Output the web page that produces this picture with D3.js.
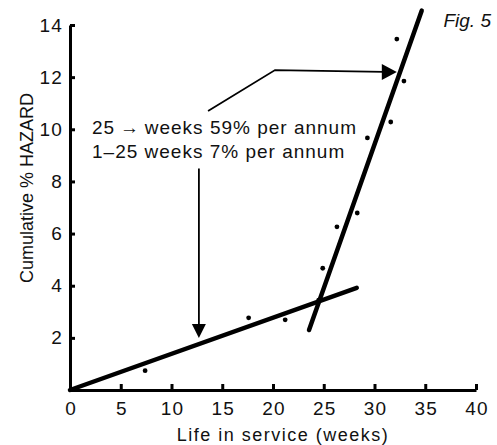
<!DOCTYPE html>
<html><head><meta charset="utf-8">
<script src="https://cdn.jsdelivr.net/npm/d3@7"></script>
<style>
body{margin:0;background:#fff;}
text{font-family:"Liberation Sans",Arial,sans-serif;fill:#111;}
</style></head>
<body><svg id="c" width="497" height="445"></svg>
<script>
// Data
const weeks  = [7.4, 17.6, 21.2, 24.5, 24.9, 26.3, 28.3, 29.3, 31.6, 32.2, 32.9];
const hazard = [0.74, 2.77, 2.69, 3.45, 4.67, 6.26, 6.79, 9.67, 10.28, 13.46, 11.85];
const lowFitX  = [0, 28.25];
const lowFitY  = [0, 3.92];
const highFitX = [23.55, 34.65];
const highFitY = [2.3, 14.55];
const xTicks = [0, 5, 10, 15, 20, 25, 30, 35, 40];
const yTicks = [2, 4, 6, 8, 10, 12, 14];
const noteLines = ["25\u2009\u2192\u2009weeks 59% per annum", "1\u201325 weeks 7% per annum"];
const arrowDownX = [12.7, 12.7];
const arrowDownY = [8.5, 1.99];
const arrowRightX = [13.6, 20.2, 32.2];
const arrowRightY = [10.7, 12.27, 12.2];

const svg = d3.select("#c");
const x = d3.scaleLinear().domain([0, 40]).range([70, 476]);
const y = d3.scaleLinear().domain([0, 14]).range([390, 25]);

// axes
const xa = svg.append("g").attr("transform", "translate(0,390)")
  .call(d3.axisBottom(x).tickValues(xTicks).tickSizeInner(-6).tickSizeOuter(0).tickPadding(12));
const ya = svg.append("g").attr("transform", "translate(70,0)")
  .call(d3.axisLeft(y).tickValues(yTicks).tickSizeInner(-5).tickSizeOuter(0).tickPadding(7));
[xa, ya].forEach(g => {
  g.select(".domain").attr("stroke", "#000").attr("stroke-width", 3);
  g.selectAll(".tick line").attr("stroke", "#000").attr("stroke-width", 3);
  g.selectAll(".tick text").style("font-size", "19px").style("letter-spacing", "1.2px").attr("fill", "#111");
});
xa.selectAll(".tick text").attr("dx", "0.6px");
xa.selectAll(".tick").filter(d => d === 0).select("line").remove();

// fit lines
const line = d3.line().x(d => x(d[0])).y(d => y(d[1]));
svg.append("path").datum(lowFitX.map((v, i) => [v, lowFitY[i]]))
  .attr("d", line).attr("stroke", "#000").attr("stroke-width", 4.5).attr("stroke-linecap", "round").attr("fill", "none");
svg.append("path").datum(highFitX.map((v, i) => [v, highFitY[i]]))
  .attr("d", line).attr("stroke", "#000").attr("stroke-width", 4.5).attr("stroke-linecap", "round").attr("fill", "none");

// points
svg.selectAll("circle.pt").data(weeks.map((w, i) => [w, hazard[i]])).enter()
  .append("circle").attr("class", "pt")
  .attr("cx", d => x(d[0])).attr("cy", d => y(d[1])).attr("r", 2.4).attr("fill", "#000");

// annotation arrows
const arrowDown = arrowDownX.map((v, i) => [v, arrowDownY[i]]);
const tipD = [x(arrowDown[1][0]), y(arrowDown[1][1])];
svg.append("path").datum(arrowDown).attr("d", d3.line().x(d => x(d[0])).y((d, i) => i === 1 ? y(d[1]) - 12 : y(d[1])))
  .attr("stroke", "#000").attr("stroke-width", 1.8).attr("fill", "none");
svg.append("path").attr("d", `M${tipD[0]},${tipD[1]} L${tipD[0]-7},${tipD[1]-14} L${tipD[0]+7},${tipD[1]-14} Z`).attr("fill", "#000");

const arrowRight = arrowRightX.map((v, i) => [v, arrowRightY[i]]);
const tipR = [x(arrowRight[2][0]), y(arrowRight[2][1])];
svg.append("path").datum(arrowRight).attr("d", d3.line().x((d, i) => i === 2 ? x(d[0]) - 13 : x(d[0])).y(d => y(d[1])))
  .attr("stroke", "#000").attr("stroke-width", 1.8).attr("fill", "none");
svg.append("path").attr("d", `M${tipR[0]},${tipR[1]} L${tipR[0]-15},${tipR[1]-8} L${tipR[0]-15},${tipR[1]+8} Z`).attr("fill", "#000");

// annotation text
noteLines.forEach((t, i) => {
  svg.append("text").attr("x", 92).attr("y", 134 + i * 24).style("font-size", "19px").style("letter-spacing", "1px").text(t);
});

// axis titles
svg.append("text").attr("x", 283).attr("y", 441).attr("text-anchor", "middle").style("font-size", "18px").style("letter-spacing", "1.5px").text("Life in service (weeks)");
svg.append("text").attr("transform", "translate(33,188) rotate(-90)").attr("text-anchor", "middle").style("font-size", "18px").text("Cumulative % HAZARD");
svg.append("text").attr("x", 491).attr("y", 27).attr("text-anchor", "end").style("font-size", "19px").style("font-style", "italic").text("Fig. 5");
</script></body></html>
